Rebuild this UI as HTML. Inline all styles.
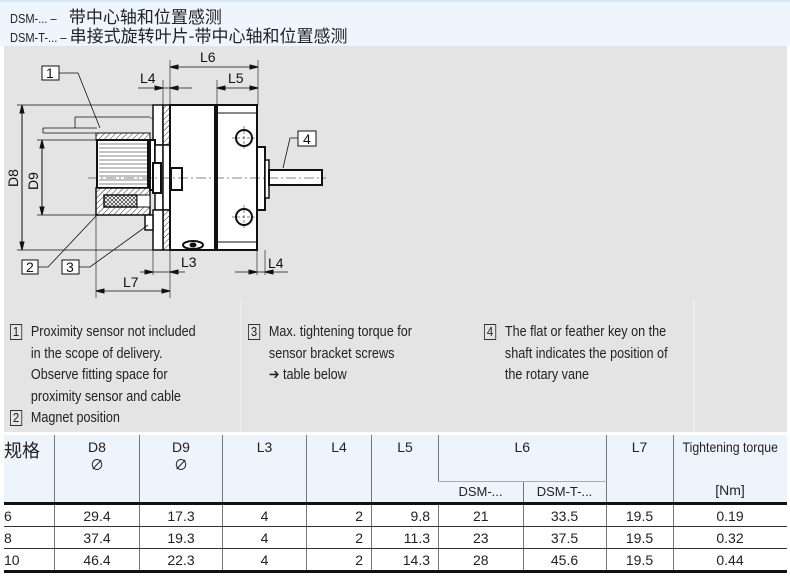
<!DOCTYPE html>
<html><head><meta charset="utf-8"><style>
body{margin:0;width:790px;height:577px;overflow:hidden;background:#fff;font-family:"Liberation Sans Narrow","Liberation Sans","Noto Sans CJK SC",sans-serif;color:#222}
.t{position:absolute;white-space:nowrap}
.box{display:inline-block;border:1px solid #333;width:12px;height:14px;line-height:14px;text-align:center;font-size:13px;margin-right:10px}
.n{position:absolute;top:322px;font-size:14.5px;line-height:21.5px;white-space:nowrap;transform:scaleX(0.87);transform-origin:0 0}
table{position:absolute;left:4px;top:435px;border-collapse:collapse;font-size:14px}
td{border-left:1px solid #777;padding:0;text-align:center}
td:first-child{border-left:none}
.hd td{background:#eef4fb;vertical-align:top}
.r td{height:21px;border-bottom:1px solid #333}
</style></head><body>
<div style="position:absolute;left:0;top:0;width:790px;height:46px;background:#eef5fc;border-top:2px solid #d4e6f5;box-sizing:border-box"></div>
<div class="t" style="left:10px;top:3px;font-size:13px"><span style="display:inline-block;transform:scaleX(0.85);transform-origin:0 0;width:48px">DSM-... –</span>&nbsp;&nbsp; <span style="font-size:17px;font-family:'Noto Sans CJK SC',sans-serif">带中心轴和位置感测</span></div>
<div class="t" style="left:10px;top:22px;font-size:13px"><span style="display:inline-block;transform:scaleX(0.85);transform-origin:0 0;width:56px">DSM-T-... –</span> <span style="font-size:17px;font-family:'Noto Sans CJK SC',sans-serif">串接式旋转叶片-带中心轴和位置感测</span></div>
<div style="position:absolute;left:4px;top:46px;width:783px;height:386px;background:#e4e4e4"></div>
<div style="position:absolute;left:240px;top:300px;width:1px;height:132px;background:#efefef"></div>
<div style="position:absolute;left:693px;top:300px;width:2px;height:132px;background:#efefef"></div>
<svg style="position:absolute;left:0;top:0" width="790" height="310" font-family="Liberation Sans, sans-serif" font-size="14">
<defs>
<pattern id="h" width="4" height="4" patternUnits="userSpaceOnUse" patternTransform="rotate(45)"><rect width="4" height="4" fill="#fff"/><line x1="0" y1="0" x2="0" y2="4" stroke="#333" stroke-width="1"/></pattern>
<pattern id="x" width="4" height="4" patternUnits="userSpaceOnUse"><rect width="4" height="4" fill="#fff"/><path d="M0 0L4 4M4 0L0 4" stroke="#333" stroke-width="0.7"/></pattern>
</defs>
<g stroke="#111" fill="none" stroke-width="1">
<path d="M75 117H150M75 117V128M43 128H97M43 128V133M43 133H97" stroke-width="0.8"/>
<path d="M17 105H155M17 250H165M37 140H97M37 215H97" stroke-width="0.7"/>
<line x1="22" y1="105" x2="22" y2="250"/><path d="M22 105l-2 8h4z M22 250l-2-8h4z" fill="#111"/>
<line x1="42" y1="140" x2="42" y2="215"/><path d="M42 140l-2 8h4z M42 215l-2-8h4z" fill="#111"/>
<rect x="96" y="133" width="54" height="7" fill="url(#h)"/>
<rect x="97" y="140" width="51" height="48" fill="#fff" stroke-width="2"/>
<path d="M99 144H147M99 148H147M99 152H147M99 156H147M99 160H147M99 164H147M99 168H147M99 172H147M99 176H147M99 180H147M99 184H147" stroke-width="0.6"/>
<rect x="96" y="188" width="54" height="27" fill="url(#h)" stroke-width="1.5"/>
<rect x="104" y="195" width="33" height="12" fill="url(#x)" stroke-width="1.5"/>
<rect x="137" y="195" width="13" height="12" fill="#fff"/>
<path d="M153 128h9v-3M150 118h12v9" fill="#bbb" stroke-width="0.5"/>
<rect x="153" y="105" width="10" height="40" fill="#fff" stroke-width="1.5"/>
<rect x="163" y="105" width="7" height="40" fill="url(#h)" stroke-width="1.5"/>
<rect x="150" y="140" width="5" height="50" fill="#fff" stroke-width="2"/>
<rect x="155" y="145" width="8" height="65" fill="#fff" stroke-width="1.5"/>
<rect x="153" y="163" width="8" height="30" fill="#fff" stroke-width="2"/>
<rect x="163" y="145" width="7" height="65" fill="#fff" stroke-width="1.5"/>
<rect x="163" y="210" width="7" height="40" fill="url(#h)" stroke-width="1.5"/>
<rect x="153" y="210" width="10" height="40" fill="#fff" stroke-width="1.5"/>
<rect x="145" y="215" width="8" height="15" fill="#fff" stroke-width="1.5"/>
<rect x="170" y="105" width="45" height="145" fill="#fff" stroke-width="2"/>
<rect x="171" y="168" width="11" height="22" fill="#fff" stroke-width="2"/>
<ellipse cx="193" cy="245" rx="10" ry="4" fill="#fff" stroke-width="2"/>
<ellipse cx="193" cy="245" rx="3" ry="2" fill="#111"/>
<rect x="217" y="105" width="40" height="145" fill="#fff" stroke-width="2"/>
<path d="M217 113H257M217 242H257"/>
<circle cx="244" cy="138" r="8" fill="#fff" stroke-width="2"/>
<circle cx="244" cy="217" r="8" fill="#fff" stroke-width="2"/>
<path d="M244 126V150M232 138H256M244 205V229M232 217H256" stroke-width="0.5" stroke-dasharray="3 2"/>
<rect x="257" y="147" width="8" height="63" fill="#fff" stroke-width="2"/>
<rect x="265" y="160" width="4" height="38" fill="#fff" stroke-width="1.5"/>
<rect x="269" y="170" width="53" height="15" fill="#fff" stroke-width="2"/>
<line x1="88" y1="178" x2="326" y2="178" stroke-width="0.6" stroke-dasharray="10 3 2 3"/>
<path d="M170 60V105M258 60V105M217 80V105M163 80V105" stroke-width="0.6"/>
<line x1="170" y1="67" x2="258" y2="67" stroke-width="0.8"/>
<path d="M170 67l8 -2v4zM258 67l-8-2v4z" fill="#111"/>
<line x1="217" y1="88" x2="258" y2="88" stroke-width="0.8"/>
<path d="M217 88l8 -2v4zM258 88l-8-2v4z" fill="#111"/>
<line x1="138" y1="88" x2="192" y2="88" stroke-width="0.8"/>
<path d="M163 88l-8 -2v4zM170 88l8-2v4z" fill="#111"/>
<path d="M153 250V275M170 250V298M257 250V275M265 250V275M96 215V298" stroke-width="0.6"/>
<line x1="140" y1="272" x2="185" y2="272" stroke-width="0.8"/>
<path d="M153 272l-8 -2v4zM170 272l8-2v4z" fill="#111"/>
<line x1="235" y1="272" x2="288" y2="272" stroke-width="0.8"/>
<path d="M257 272l-8 -2v4zM265 272l8-2v4z" fill="#111"/>
<line x1="96" y1="291" x2="170" y2="291" stroke-width="0.8"/>
<path d="M96 291l8 -2v4zM170 291l-8-2v4z" fill="#111"/>
<path d="M59 73H78L100 128M38 267H48L97 215M79 267H90L148 225M298 138H290L283 168" stroke-width="0.8"/>
<rect x="42" y="66" width="17" height="14" fill="#fff"/>
<rect x="22" y="260" width="16" height="14" fill="#fff"/>
<rect x="62" y="260" width="17" height="14" fill="#fff"/>
<rect x="298" y="131" width="18" height="15" fill="#fff"/>
</g>
<g fill="#111">
<text x="46" y="78">1</text><text x="26" y="272">2</text><text x="66" y="272">3</text><text x="303" y="144">4</text>
<text x="200" y="62">L6</text><text x="228" y="83">L5</text><text x="140" y="83">L4</text>
<text x="181" y="267">L3</text><text x="268" y="268">L4</text><text x="123" y="287">L7</text>
<text transform="translate(18,187) rotate(-90)">D8</text>
<text transform="translate(38,190) rotate(-90)">D9</text>
</g>
</svg>
<div class="n" style="left:10px">
<div><span class="box">1</span>Proximity sensor not included</div>
<div style="padding-left:24px">in the scope of delivery.<br>Observe fitting space for<br>proximity sensor and cable</div>
<div><span class="box">2</span>Magnet position</div></div>
<div class="n" style="left:248px">
<div><span class="box">3</span>Max. tightening torque for</div>
<div style="padding-left:24px">sensor bracket screws<br>➔ table below</div></div>
<div class="n" style="left:484px">
<div><span class="box">4</span>The flat or feather key on the</div>
<div style="padding-left:24px">shaft indicates the position of<br>the rotary vane</div></div>
<table>
<tr class="hd"><td rowspan="2" style="width:50px;height:65px;text-align:left;font-size:18px;font-family:'Noto Sans CJK SC',sans-serif;padding-top:2px">规格</td>
<td rowspan="2" style="width:84px;padding-top:4px">D8<br>∅</td><td rowspan="2" style="width:82px;padding-top:4px">D9<br>∅</td>
<td rowspan="2" style="width:83px;padding-top:4px">L3</td><td rowspan="2" style="width:64px;padding-top:4px">L4</td>
<td rowspan="2" style="width:66px;padding-top:4px">L5</td><td colspan="2" style="height:41px;padding-top:4px;border-bottom:1px solid #aaa">L6</td>
<td rowspan="2" style="width:66px;padding-top:4px">L7</td>
<td rowspan="2" style="width:113px;padding-top:4px;position:relative"><span style="display:inline-block;transform:scaleX(0.88)">Tightening torque</span><div style="position:absolute;top:47px;width:100%">[Nm]</div></td></tr>
<tr class="hd"><td style="width:84px;height:20px;vertical-align:middle;font-size:13px">DSM-...</td><td style="width:82px;vertical-align:middle;font-size:13px">DSM-T-...</td></tr>
<tr><td colspan="10" style="height:3px;background:#111;border:none"></td></tr>
<tr class="r"><td style="text-align:left">6</td><td>29.4</td><td>17.3</td><td>4</td><td style="text-align:right;padding-right:8px">2</td><td style="text-align:right;padding-right:8px">9.8</td><td>21</td><td>33.5</td><td>19.5</td><td>0.19</td></tr>
<tr class="r"><td style="text-align:left">8</td><td>37.4</td><td>19.3</td><td>4</td><td style="text-align:right;padding-right:8px">2</td><td style="text-align:right;padding-right:8px">11.3</td><td>23</td><td>37.5</td><td>19.5</td><td>0.32</td></tr>
<tr class="r"><td style="text-align:left;border-bottom:3px solid #111">10</td><td style="border-bottom:3px solid #111">46.4</td><td style="border-bottom:3px solid #111">22.3</td><td style="border-bottom:3px solid #111">4</td><td style="text-align:right;padding-right:8px;border-bottom:3px solid #111">2</td><td style="text-align:right;padding-right:8px;border-bottom:3px solid #111">14.3</td><td style="border-bottom:3px solid #111">28</td><td style="border-bottom:3px solid #111">45.6</td><td style="border-bottom:3px solid #111">19.5</td><td style="border-bottom:3px solid #111">0.44</td></tr>
</table>
</body></html>
